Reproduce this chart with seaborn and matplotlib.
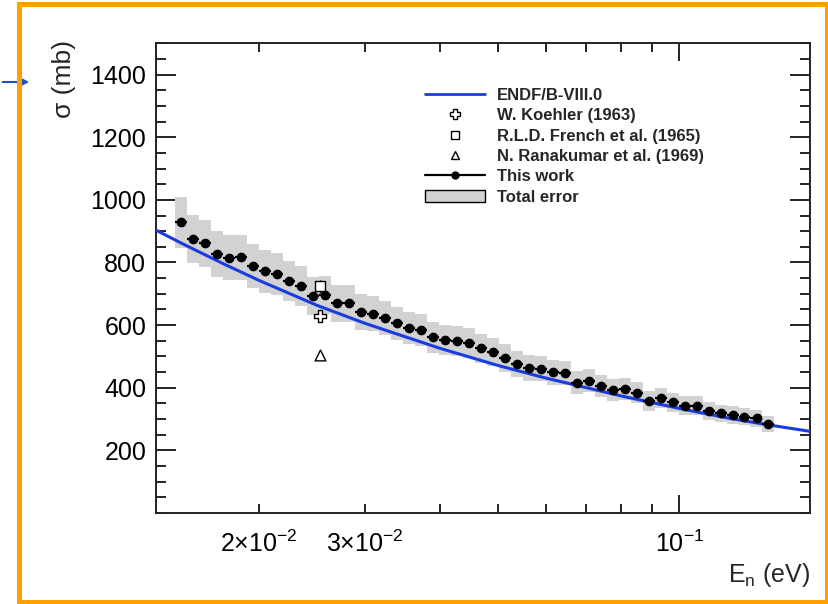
import numpy as np
import matplotlib
matplotlib.use("Agg")
import matplotlib.pyplot as plt
import seaborn as sns
from matplotlib.lines import Line2D
from matplotlib.patches import Patch, Rectangle
from matplotlib.ticker import FixedLocator, MultipleLocator, NullFormatter

# ---------------- data ----------------
this_work_e = [0.01483, 0.01552, 0.01625, 0.01702, 0.01782, 0.01865, 0.01953, 0.02045,
               0.02141, 0.02242, 0.02347, 0.02457, 0.02573, 0.02694, 0.02820, 0.02953,
               0.03092, 0.03237, 0.03389, 0.03549, 0.03715, 0.03890, 0.04073, 0.04264,
               0.04465, 0.04674, 0.04894, 0.05124, 0.05365, 0.05617, 0.05881, 0.06158,
               0.06447, 0.06750, 0.07067, 0.07399, 0.07747, 0.08111, 0.08493, 0.08892,
               0.09310, 0.09747, 0.10205, 0.10685, 0.11187, 0.11713, 0.12264, 0.12840,
               0.13444, 0.14075]
this_work_sigma = [928, 875, 861, 827, 815, 816, 789, 772, 763, 741, 724, 692, 696, 670,
                   670, 642, 636, 622, 606, 591, 585, 561, 551, 548, 544, 526, 515, 495,
                   475, 462, 460, 449, 447, 416, 422, 406, 394, 395, 384, 358, 368, 353,
                   343, 343, 326, 318, 313, 308, 303, 285]
this_work_toterr = [82, 77, 76, 73, 72, 72, 69, 68, 67, 65, 64, 61, 61, 59, 59, 56, 56,
                    55, 53, 52, 51, 49, 48, 48, 48, 46, 45, 44, 42, 41, 40, 39, 39, 37,
                    37, 36, 35, 35, 34, 32, 32, 31, 30, 30, 29, 28, 28, 27, 27, 25]

endf_e = [0.0134, 0.015, 0.0175, 0.02, 0.025, 0.03, 0.04, 0.05, 0.06, 0.08,
          0.10, 0.12, 0.14, 0.166]
endf_sigma = [906, 858, 795, 743, 663, 606, 526, 471, 431, 374, 334, 304, 282, 260]

koehler_e, koehler_s, koehler_err = [0.0253], [630], [10]
french_e, french_s, french_err = [0.0253], [724], [20]
rana_e, rana_s, rana_err = [0.0253], [503], [15]

ytick_vals = [200, 400, 600, 800, 1000, 1200, 1400]
xtick_vals = [0.02, 0.03, 0.1]
xtick_labels = [r"$2{\times}10^{-2}$", r"$3{\times}10^{-2}$", r"$10^{-1}$"]

legend_labels = ["ENDF/B-VIII.0", "W. Koehler (1963)", "R.L.D. French et al. (1965)",
                 "N. Ranakumar et al. (1969)", "This work", "Total error"]

# ---------------- style ----------------
sns.set_theme(style="ticks")
plt.rcParams["font.family"] = ["Liberation Sans", "DejaVu Sans"]
plt.rcParams["mathtext.fontset"] = "custom"
plt.rcParams["mathtext.rm"] = "Liberation Sans"
plt.rcParams["mathtext.it"] = "Liberation Sans:italic"
plt.rcParams["mathtext.bf"] = "Liberation Sans:bold"

W, H = 829, 604
fig = plt.figure(figsize=(W / 100, H / 100), dpi=100)
ax = fig.add_axes([156 / W, 1 - 513 / H, (810 - 156) / W, (513 - 43.3) / H])

e = np.array(this_work_e)
s = np.array(this_work_sigma)
err = np.array(this_work_toterr)
# bin edges: geometric midpoints between neighbouring energies
mid = np.sqrt(e[:-1] * e[1:])
edges = np.concatenate([[e[0] ** 2 / mid[0]], mid, [e[-1] ** 2 / mid[-1]]])

ax.bar(edges[:-1], 2 * err, bottom=s - err, width=np.diff(edges), align="edge",
       color="#d2d2d2", linewidth=0, zorder=1)

sns.lineplot(x=endf_e, y=endf_sigma, ax=ax, color="#1a3be0", lw=2.2,
             estimator=None, sort=False, zorder=3)

ax.errorbar(e, s, xerr=[e - edges[:-1], edges[1:] - e], fmt="o", color="black",
            ms=6, elinewidth=1.6, capsize=0, zorder=5)

ax.errorbar(koehler_e, koehler_s, yerr=koehler_err, fmt="none", ecolor="black",
            elinewidth=1, zorder=6)
ax.errorbar(french_e, french_s, yerr=french_err, fmt="none", ecolor="black",
            elinewidth=1, zorder=6)
ax.errorbar(rana_e, rana_s, yerr=rana_err, fmt="none", ecolor="black",
            elinewidth=1, zorder=6)
sns.scatterplot(x=koehler_e, y=koehler_s, ax=ax, marker="P", s=70,
                facecolor="white", edgecolor="black", linewidth=1, zorder=7)
sns.scatterplot(x=french_e, y=french_s, ax=ax, marker="s", s=60,
                facecolor="white", edgecolor="black", linewidth=1, zorder=7)
sns.scatterplot(x=rana_e, y=rana_s, ax=ax, marker="^", s=60,
                facecolor="white", edgecolor="black", linewidth=1, zorder=7)

ax.set_xscale("log")
ax.set_xlim(0.01349, 0.165)
ax.set_ylim(0, 1500)

ax.xaxis.set_major_locator(FixedLocator(xtick_vals))
ax.set_xticklabels(xtick_labels)
ax.xaxis.set_minor_locator(FixedLocator([0.04, 0.05, 0.06, 0.07, 0.08, 0.09]))
ax.xaxis.set_minor_formatter(NullFormatter())
ax.set_yticks(ytick_vals)
ax.yaxis.set_minor_locator(MultipleLocator(50))

ax.tick_params(axis="both", which="both", direction="in", top=True, right=True,
               colors="#222222", labelcolor="black", width=1.4)
ax.tick_params(axis="y", which="major", length=14.5, labelsize=18, pad=7)
ax.tick_params(axis="y", which="minor", length=7.2)
ax.tick_params(axis="x", which="major", length=6.5, labelsize=18, pad=13)
ax.tick_params(axis="x", which="minor", length=6.5)
for t in ax.xaxis.get_major_ticks():
    if abs(t.get_loc() - 0.1) < 1e-6:
        t.tick1line.set_markersize(13)
        t.tick2line.set_markersize(13)
for sp in ax.spines.values():
    sp.set_linewidth(1.4)
    sp.set_color("#222222")
ax.set_xlabel("")
ax.set_ylabel("")

fig.text(64 / W, 1 - 40 / H, "σ (mb)", rotation=90, ha="center", va="top", fontsize=19)
fig.text(810 / W, 1 - 575 / H, r"$\mathrm{E_{n}}$ (eV)", ha="right", va="center",
         fontsize=18)

handles = [
    Line2D([], [], color="#1a3be0", lw=2),
    Line2D([], [], ls="none", marker="P", ms=7, mfc="white", mec="black", mew=1),
    Line2D([], [], ls="none", marker="s", ms=6, mfc="white", mec="black", mew=1),
    Line2D([], [], ls="none", marker="^", ms=6, mfc="white", mec="black", mew=1),
    Line2D([], [], color="black", lw=1.6, marker="o", ms=5),
    Patch(facecolor="#d2d2d2", edgecolor="black", linewidth=1),
]
leg = ax.legend(handles, legend_labels, loc="upper left",
                bbox_to_anchor=(425 / W, 1 - 88 / H), bbox_transform=fig.transFigure,
                frameon=False, borderpad=0, borderaxespad=0, handlelength=3.6,
                handletextpad=0.7, labelspacing=0.32,
                prop={"weight": "bold", "size": 12})

# orange frame and blue arrow
fig.patches.append(Rectangle((19.3 / W, 1 - 601.7 / H), (826.8 - 19.3) / W,
                             (601.7 - 4.2) / H, transform=fig.transFigure,
                             fill=False, edgecolor="#FFA000", linewidth=3.6,
                             zorder=10))
ax.annotate("", xy=(32, H - 82), xytext=(0, H - 82), xycoords="figure pixels",
            textcoords="figure pixels",
            arrowprops=dict(arrowstyle="-|>", color="#1a4fd0", lw=1.5,
                            mutation_scale=16))

fig.savefig("out.png", dpi=100)
